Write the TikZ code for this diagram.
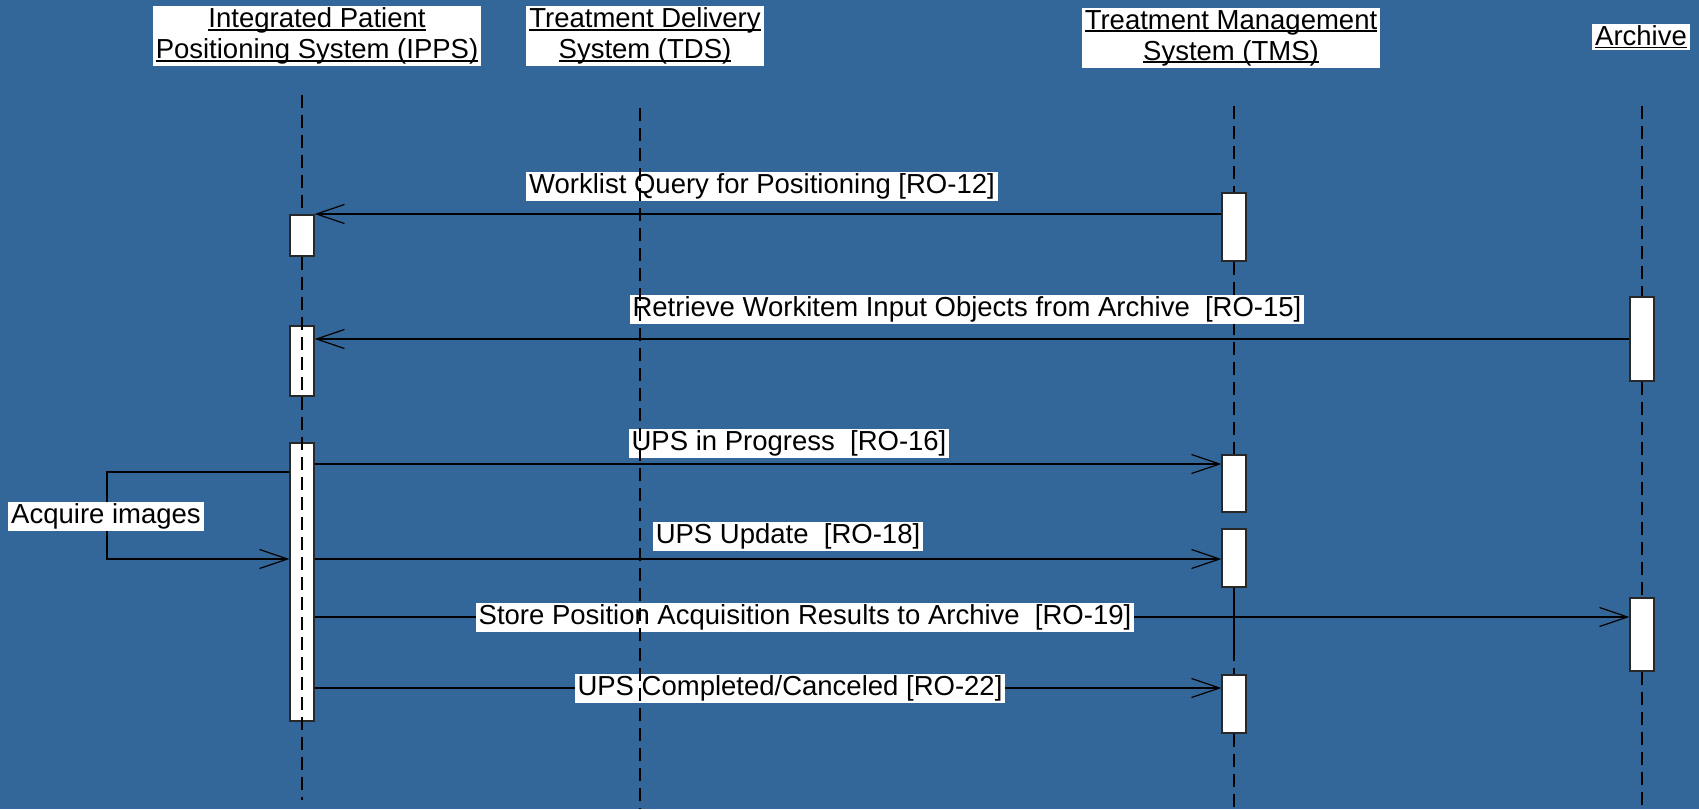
\documentclass[tikz,border=0pt]{standalone}
\usepackage{fontspec}
\setmainfont{Liberation Sans}
\usetikzlibrary{arrows.meta}
\definecolor{bgblue}{RGB}{51,102,153}
\definecolor{boxedge}{RGB}{40,40,40}
\newcommand\myul[1]{\setbox0\hbox{#1}\rlap{\rule[-3pt]{\wd0}{1.8pt}}\box0}
\tikzset{
  hdr/.style={fill=white, align=center, inner xsep=3pt, inner ysep=2pt,
    font=\fontsize{27.5}{31}\selectfont},
  lbl/.style={fill=white, inner xsep=3pt, inner ysep=1pt,
    font=\fontsize{27.5}{31}\selectfont, text height=21pt, text depth=6pt},
  life/.style={line width=1.3pt, dash pattern=on 13pt off 7pt},
  act/.style={draw=boxedge, fill=white, line width=1.2pt, minimum width=24pt, inner sep=0pt},
  msg/.style={line width=1.2pt, -{Straight Barb[length=28pt,width=19pt,line width=1.2pt]}}
}
\begin{document}
\begin{tikzpicture}[x=1pt,y=-1pt]
\fill[bgblue] (0,0) rectangle (1699,809);
\useasboundingbox (0,0) rectangle (1699,809);

% headers
\node[hdr] (hipps) at (317,36) {\myul{Integrated Patient}\\\myul{Positioning System (IPPS)}};
\node[hdr] (htds) at (645,36) {\myul{Treatment Delivery}\\\myul{System (TDS)}};
\node[hdr] (htms) at (1231,38) {\myul{Treatment Management}\\\myul{System (TMS)}};
\node[hdr] (harc) at (1641,37) {\myul{Archive}};

% activation boxes
\node[act, minimum height=41pt] (ipps1) at (302,235.5) {};
\node[act, minimum height=70pt] (ipps2) at (302,361) {};
\node[act, minimum height=278pt] (ipps3) at (302,582) {};
\node[act, minimum height=68pt] (tms1) at (1234,227) {};
\node[act, minimum height=57pt] (tms2) at (1234,483.5) {};
\node[act, minimum height=58pt] (tms3) at (1234,558) {};
\node[act, minimum height=58pt] (tms4) at (1234,704) {};
\node[act, minimum height=84pt] (arc1) at (1642,339) {};
\node[act, minimum height=73pt] (arc2) at (1642,634.5) {};

% lifelines
\coordinate (lippsT) at (302,95);   \coordinate (lippsB) at (302,800);
\coordinate (ltdsT) at (640,108);   \coordinate (ltdsB) at (640,809);
\coordinate (ltmsT) at (1234,106);  \coordinate (ltmsB) at (1234,809);
\coordinate (larcT) at (1642,106);  \coordinate (larcB) at (1642,809);
\draw[life] (lippsT) -- (ipps1.north);
\draw[life] (ltmsT) -- (tms1.north);
\draw[life] (tms1.south) -- (tms2.north);
\draw[life] (tms3.south) -- (tms4.north);
\draw[line width=1.3pt] (tms3.south) -- ++(0,73);
\draw[life] (tms4.south) -- (ltmsB);
\draw[life] (larcT) -- (arc1.north);
\draw[life] (arc1.south) -- (arc2.north);
\draw[life] (arc2.south) -- (larcB);

% message anchors
\coordinate (m1s) at (tms1.west |- 0,214);
\coordinate (m1e) at (ipps1.east |- 0,214);
\coordinate (m2s) at (arc1.west |- 0,339);
\coordinate (m2e) at (ipps2.east |- 0,339);
\coordinate (m3s) at (ipps3.east |- 0,464);
\coordinate (m3e) at (tms2.west |- 0,464);
\coordinate (m4s) at (ipps3.east |- 0,559);
\coordinate (m4e) at (tms3.west |- 0,559);
\coordinate (m5s) at (ipps3.east |- 0,617);
\coordinate (m5e) at (arc2.west |- 0,617);
\coordinate (m6s) at (ipps3.east |- 0,688);
\coordinate (m6e) at (tms4.west |- 0,688);
\coordinate (s1) at (ipps3.west |- 0,472);
\coordinate (s2) at (107,472);
\coordinate (s3) at (107,559);
\coordinate (s4) at (ipps3.west |- 0,559);

\draw[msg] (m1s) -- (m1e);
\draw[msg] (m2s) -- (m2e);
\draw[msg] (m3s) -- (m3e);
\draw[msg] (m4s) -- (m4e);
\draw[msg] (m5s) -- (m5e);
\draw[msg] (m6s) -- (m6e);
\draw[msg] (s1) -- (s2) -- (s3) -- (s4);

% labels
\node[lbl] (l1) at (762,186) {Worklist Query for Positioning [RO-12]};
\node[lbl] (l2) at (967,309) {Retrieve Workitem Input Objects from Archive\ \ [RO-15]};
\node[lbl] (l3) at (789,443) {UPS in Progress\ \ [RO-16]};
\node[lbl] (l4) at (788,536) {UPS Update\ \ [RO-18]};
\node[lbl] (l5) at (805,617) {Store Position Acquisition Results to Archive\ \ [RO-19]};
\node[lbl] (l6) at (790,688) {UPS Completed/Canceled [RO-22]};
\node[lbl] (l7) at (106,516) {Acquire images};

% lifelines drawn over labels / boxes
\draw[life] (ltdsT) -- (ltdsB);
\draw[life] (ipps1.south) -- (lippsB);
\end{tikzpicture}
\end{document}
